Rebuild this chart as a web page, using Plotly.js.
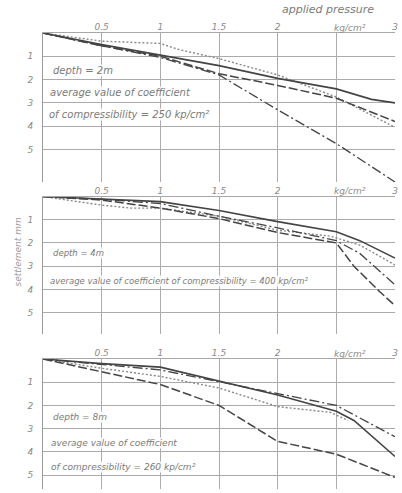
<!DOCTYPE html>
<html>
<head>
<meta charset="utf-8">
<script src="https://cdn.plot.ly/plotly-3.0.1.min.js"></script>
<style>html,body{margin:0;padding:0;background:#fff;}#chart{width:402px;height:493px;}</style>
</head>
<body>
<div id="chart"></div>
<script>
// ---- data (applied pressure kg/cm², settlement mm) ----
const xTickVals = [0.5, 1, 1.5, 2, 2.5, 3];
const xTickText = ["0.5", "1", "1.5", "2", "", "3"];
const yTickVals = [1, 2, 3, 4, 5];
const yTickText = ["1", "2", "3", "4", "5"];

// panel 1: depth = 2 m
const p1SolidX = [0, 0.5, 1, 1.5, 2, 2.5, 2.8, 3];
const p1SolidY = [0, 0.5, 0.95, 1.4, 1.95, 2.4, 2.85, 3.0];
const p1DashX = [0, 0.5, 1, 1.5, 2, 2.5, 3];
const p1DashY = [0, 0.55, 1.0, 1.75, 2.25, 2.8, 3.8];
const p1DashDotX = [0, 0.5, 1, 1.5, 2, 2.5, 3];
const p1DashDotY = [0, 0.55, 1.05, 1.8, 3.3, 4.75, 6.4];
const p1DotX = [0, 0.5, 1, 1.15, 1.5, 2, 2.5, 3];
const p1DotY = [0, 0.35, 0.45, 0.7, 1.1, 1.8, 2.75, 4.05];

// panel 2: depth = 4 m
const p2SolidX = [0, 0.5, 1, 1.5, 2, 2.5, 2.7, 3];
const p2SolidY = [0, 0.1, 0.22, 0.6, 1.08, 1.52, 1.9, 2.65];
const p2DashDotX = [0, 0.5, 1, 1.5, 2, 2.5, 2.7, 3];
const p2DashDotY = [0, 0.12, 0.3, 0.85, 1.35, 1.9, 2.45, 3.8];
const p2DashX = [0, 0.5, 1, 1.5, 2, 2.5, 2.65, 2.87, 3];
const p2DashY = [0, 0.15, 0.5, 0.95, 1.55, 2.0, 3.0, 4.1, 4.7];
const p2DotX = [0, 0.5, 0.75, 1, 1.5, 2, 2.45, 2.7, 3];
const p2DotY = [0, 0.37, 0.5, 0.5, 0.85, 1.45, 1.71, 2.09, 2.95];

// panel 3: depth = 8 m
const p3SolidX = [0, 0.5, 1, 1.5, 2, 2.5, 2.65, 3];
const p3SolidY = [0, 0.2, 0.35, 0.95, 1.55, 2.25, 2.65, 4.2];
const p3DashDotX = [0, 0.5, 1, 1.5, 2, 2.5, 3];
const p3DashDotY = [0, 0.25, 0.47, 0.98, 1.5, 2.0, 3.35];
const p3DotX = [0, 0.5, 1, 1.5, 2, 2.45, 2.6];
const p3DotY = [0, 0.4, 0.75, 1.25, 2.05, 2.3, 2.65];
const p3DashX = [0, 0.5, 1, 1.5, 2, 2.5, 3];
const p3DashY = [0, 0.55, 1.1, 2.0, 3.55, 4.1, 5.1];

// ---- styles ----
const dark = "#444444";
const light = "#888888";
const S = {
  solid: {color: dark, width: 1.6, dash: "solid"},
  dash: {color: dark, width: 1.5, dash: "9px,3px"},
  dashdot: {color: dark, width: 1.3, dash: "10px,3px,2px,3px"},
  dot: {color: light, width: 1.4, dash: "2px,2px"}
};
function tr(x, y, st, xa, ya) {
  return {x: x, y: y, type: "scatter", mode: "lines", line: st, xaxis: xa, yaxis: ya, hoverinfo: "skip", showlegend: false};
}
const data = [
  tr(p1DotX, p1DotY, S.dot, "x", "y"),
  tr(p1SolidX, p1SolidY, S.solid, "x", "y"),
  tr(p1DashX, p1DashY, S.dash, "x", "y"),
  tr(p1DashDotX, p1DashDotY, S.dashdot, "x", "y"),
  tr(p2DotX, p2DotY, S.dot, "x2", "y2"),
  tr(p2SolidX, p2SolidY, S.solid, "x2", "y2"),
  tr(p2DashX, p2DashY, S.dash, "x2", "y2"),
  tr(p2DashDotX, p2DashDotY, S.dashdot, "x2", "y2"),
  tr(p3DotX, p3DotY, S.dot, "x3", "y3"),
  tr(p3SolidX, p3SolidY, S.solid, "x3", "y3"),
  tr(p3DashX, p3DashY, S.dash, "x3", "y3"),
  tr(p3DashDotX, p3DashDotY, S.dashdot, "x3", "y3")
];

const tickFont = {family: "DejaVu Sans", size: 9, color: "#8a8a8a", style: "italic"};
function xax(anchor) {
  return {anchor: anchor, side: "top", range: [0, 3], tickmode: "array", tickvals: xTickVals, ticktext: xTickText,
    showgrid: true, gridcolor: "#ababab", gridwidth: 1, zeroline: false, showline: true, linecolor: "#a8a8a8",
    linewidth: 1, ticks: "", ticklabelstandoff: -2, tickfont: tickFont, fixedrange: true};
}
function yax(anchor, dom, maxv) {
  return {anchor: anchor, domain: dom, range: [maxv, 0], tickmode: "array", tickvals: yTickVals, ticktext: yTickText,
    showgrid: true, gridcolor: "#ababab", gridwidth: 1, zeroline: false, showline: true, linecolor: "#9a9a9a",
    linewidth: 1, ticks: "outside", ticklen: 0, ticklabelstandoff: 7, tickfont: tickFont, fixedrange: true};
}

const txt = (s, size) => ({family: "DejaVu Sans", size: size, color: "#7a7a7a", style: "italic"});
function ann(text, xref, yref, x, y, size) {
  return {text: text, xref: xref, yref: yref, x: x, y: y, xanchor: "left", yanchor: "middle", showarrow: false,
    font: txt(text, size), bgcolor: "rgba(255,255,255,0.85)", borderpad: 0};
}

const layout = {
  width: 402, height: 493,
  margin: {l: 43, r: 7, t: 33, b: 4},
  paper_bgcolor: "#fff", plot_bgcolor: "rgba(0,0,0,0)",
  xaxis: xax("y"), yaxis: yax("x", [0.6732, 1], 6.4),
  xaxis2: xax("y2"), yaxis2: yax("x2", [0.3410, 0.6414], 5.9),
  xaxis3: xax("y3"), yaxis3: yax("x3", [0, 0.2851], 5.6),
  annotations: [
    {text: "applied pressure", xref: "paper", yref: "paper", x: 0.673, y: 1.052, xanchor: "left", yanchor: "middle",
      showarrow: false, font: {family: "DejaVu Sans", size: 11, color: "#7a7a7a", style: "italic"}},
    {text: "kg/cm²", xref: "x", yref: "paper", x: 2.62, y: 1.012, xanchor: "center", yanchor: "middle", showarrow: false, font: tickFont},
    {text: "kg/cm²", xref: "x2", yref: "paper", x: 2.62, y: 0.654, xanchor: "center", yanchor: "middle", showarrow: false, font: tickFont},
    {text: "kg/cm²", xref: "x3", yref: "paper", x: 2.62, y: 0.297, xanchor: "center", yanchor: "middle", showarrow: false, font: tickFont},
    {text: "settlement mm", xref: "paper", yref: "paper", x: -0.072, y: 0.52, textangle: -90, xanchor: "center", yanchor: "middle",
      showarrow: false, font: {family: "DejaVu Sans", size: 9, color: "#9a9a9a", style: "italic"}},
    ann("depth = 2m", "x", "y", 0.08, 1.6, 10),
    ann("average value of coefficient", "x", "y", 0.05, 2.55, 10),
    ann("of compressibility = 250 kp/cm²", "x", "y", 0.04, 3.5, 10),
    ann("depth = 4m", "x2", "y2", 0.08, 2.45, 8.5),
    ann("average value of coefficient of compressibility = 400 kp/cm²", "x2", "y2", 0.05, 3.65, 8.5),
    ann("depth = 8m", "x3", "y3", 0.08, 2.5, 9),
    ann("average value of coefficient", "x3", "y3", 0.06, 3.6, 9),
    ann("of compressibility = 260 kp/cm²", "x3", "y3", 0.06, 4.65, 9)
  ]
};

Plotly.newPlot("chart", data, layout, {staticPlot: true, displayModeBar: false});
</script>
</body>
</html>
